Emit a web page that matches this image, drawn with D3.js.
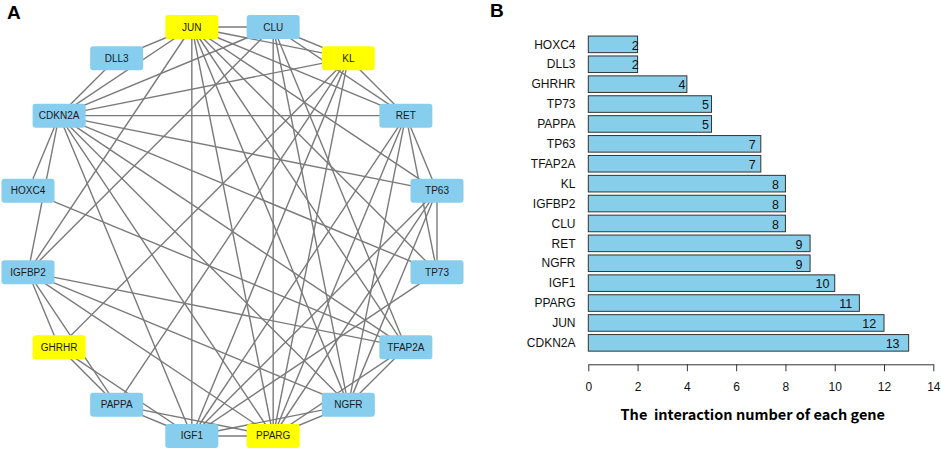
<!DOCTYPE html>
<html>
<head>
<meta charset="utf-8">
<script src="https://cdn.jsdelivr.net/npm/d3@7"></script>
<style>
  body { margin: 0; background: #fff; }
  text { font-family: "Liberation Sans", Arial, sans-serif; }
</style>
</head>
<body>
<div id="chart"></div>
<script>
// network nodes, clockwise from the top
var nodes = ["JUN", "CLU", "KL", "RET", "TP63", "TP73", "TFAP2A", "NGFR",
             "PPARG", "IGF1", "PAPPA", "GHRHR", "IGFBP2", "HOXC4", "CDKN2A", "DLL3"];
var hubGenes = ["JUN", "KL", "PPARG", "GHRHR"];

var edges = [
  ["CDKN2A","DLL3"],["CDKN2A","JUN"],["CDKN2A","CLU"],["CDKN2A","KL"],["CDKN2A","RET"],
  ["CDKN2A","TP63"],["CDKN2A","TP73"],["CDKN2A","TFAP2A"],["CDKN2A","NGFR"],["CDKN2A","PPARG"],
  ["CDKN2A","IGF1"],["CDKN2A","HOXC4"],["CDKN2A","IGFBP2"],
  ["JUN","DLL3"],["JUN","CLU"],["JUN","KL"],["JUN","RET"],["JUN","TP63"],["JUN","TP73"],
  ["JUN","TFAP2A"],["JUN","NGFR"],["JUN","PPARG"],["JUN","IGF1"],["JUN","IGFBP2"],
  ["CLU","KL"],["CLU","RET"],["CLU","TFAP2A"],["CLU","NGFR"],["CLU","PPARG"],["CLU","IGFBP2"],
  ["KL","RET"],["KL","PPARG"],["KL","IGF1"],["KL","PAPPA"],["KL","GHRHR"],
  ["RET","TP63"],["RET","TP73"],["RET","NGFR"],["RET","PPARG"],["RET","IGF1"],
  ["TP63","TP73"],["TP63","NGFR"],["TP63","PPARG"],["TP63","IGF1"],
  ["TP73","IGF1"],
  ["TFAP2A","HOXC4"],["TFAP2A","IGFBP2"],["TFAP2A","NGFR"],["TFAP2A","PPARG"],
  ["NGFR","IGFBP2"],["NGFR","PPARG"],["NGFR","IGF1"],
  ["PPARG","IGF1"],["PPARG","PAPPA"],["PPARG","IGFBP2"],
  ["IGF1","PAPPA"],["IGF1","GHRHR"],
  ["PAPPA","GHRHR"],["PAPPA","IGFBP2"],
  ["GHRHR","IGFBP2"]
];

// bar chart
var genes = ["HOXC4", "DLL3", "GHRHR", "TP73", "PAPPA", "TP63", "TFAP2A", "KL",
             "IGFBP2", "CLU", "RET", "NGFR", "IGF1", "PPARG", "JUN", "CDKN2A"];
var counts = [2, 2, 4, 5, 5, 7, 7, 8, 8, 8, 9, 9, 10, 11, 12, 13];
var xTicks = [0, 2, 4, 6, 8, 10, 12, 14];

var width = 941, height = 450;

var svg = d3.select("#chart").append("svg")
  .attr("width", width)
  .attr("height", height)
  .style("background", "#fff");

// ---------- panel A ----------
var cx = 232.5, cy = 231.5, radius = 208.5;
var boxW = 53, boxH = 24;

var angle = d3.scaleLinear()
  .domain([0, nodes.length])
  .range([-Math.PI / 16, 2 * Math.PI - Math.PI / 16]);

var pos = {};
nodes.forEach(function(n, i) {
  pos[n] = { x: cx + radius * Math.sin(angle(i)), y: cy - radius * Math.cos(angle(i)) };
});

var net = svg.append("g");

net.selectAll("line.edge")
  .data(edges)
  .enter().append("line")
  .attr("class", "edge")
  .attr("x1", function(d) { return pos[d[0]].x; })
  .attr("y1", function(d) { return pos[d[0]].y; })
  .attr("x2", function(d) { return pos[d[1]].x; })
  .attr("y2", function(d) { return pos[d[1]].y; })
  .attr("stroke", "#7a7a7a")
  .attr("stroke-width", 1.4);

var node = net.selectAll("g.node")
  .data(nodes)
  .enter().append("g")
  .attr("class", "node")
  .attr("transform", function(d) { return "translate(" + pos[d].x + "," + pos[d].y + ")"; });

node.append("rect")
  .attr("x", -boxW / 2)
  .attr("y", -boxH / 2)
  .attr("width", boxW)
  .attr("height", boxH)
  .attr("rx", 3)
  .attr("fill", function(d) { return hubGenes.indexOf(d) >= 0 ? "#ffff00" : "#87cdee"; });

node.append("text")
  .attr("text-anchor", "middle")
  .attr("dy", "0.35em")
  .style("font-size", "10px")
  .style("fill", "#1a1a1a")
  .text(function(d) { return d; });

svg.append("text")
  .attr("x", 7)
  .attr("y", 19)
  .style("font-size", "19px")
  .style("font-weight", "bold")
  .text("A");

// ---------- panel B ----------
var xScale = d3.scaleLinear()
  .domain([0, 14])
  .range([588.3, 933.3]);

var yScale = d3.scaleBand()
  .domain(genes)
  .range([34.4, 352.8])
  .paddingInner(0.1667)
  .paddingOuter(0.0833);

var bars = svg.append("g");

bars.selectAll("rect")
  .data(counts)
  .enter().append("rect")
  .attr("x", xScale(0))
  .attr("y", function(d, i) { return yScale(genes[i]); })
  .attr("width", function(d) { return xScale(d) - xScale(0); })
  .attr("height", yScale.bandwidth())
  .attr("fill", "#87ceeb")
  .attr("stroke", "#333")
  .attr("stroke-width", 1);

bars.selectAll("text.val")
  .data(counts)
  .enter().append("text")
  .attr("class", "val")
  .attr("x", function(d) { return xScale(d * 0.95); })
  .attr("y", function(d, i) { return yScale(genes[i]) + yScale.bandwidth() / 2; })
  .attr("dy", "0.42em")
  .attr("text-anchor", "middle")
  .style("font-size", "12.5px")
  .style("fill", "#111")
  .text(function(d) { return d; });

bars.selectAll("text.gene")
  .data(genes)
  .enter().append("text")
  .attr("class", "gene")
  .attr("x", 575.5)
  .attr("y", function(d) { return yScale(d) + yScale.bandwidth() / 2; })
  .attr("dy", "0.35em")
  .attr("text-anchor", "end")
  .style("font-size", "12px")
  .style("fill", "#111")
  .text(function(d) { return d; });

var axis = svg.append("g")
  .attr("transform", "translate(0,364.3)")
  .call(d3.axisBottom(xScale).tickValues(xTicks).tickSize(7).tickSizeOuter(0).tickPadding(11));

axis.select(".domain").attr("stroke", "#333");
axis.selectAll(".tick line").attr("stroke", "#333");
axis.selectAll(".tick text")
  .style("font-size", "12px")
  .style("font-family", "'Liberation Sans', Arial, sans-serif")
  .attr("fill", "#111");

svg.append("text")
  .attr("x", 752.8)
  .attr("y", 419.5)
  .attr("text-anchor", "middle")
  .style("font-family", "'Noto Sans CJK SC', 'Noto Sans', sans-serif")
  .style("font-size", "14.5px")
  .style("font-weight", "bold")
  .style("white-space", "pre")
  .text("The  interaction number of each gene");

svg.append("text")
  .attr("x", 490)
  .attr("y", 17)
  .style("font-size", "19px")
  .style("font-weight", "bold")
  .text("B");
</script>
</body>
</html>
